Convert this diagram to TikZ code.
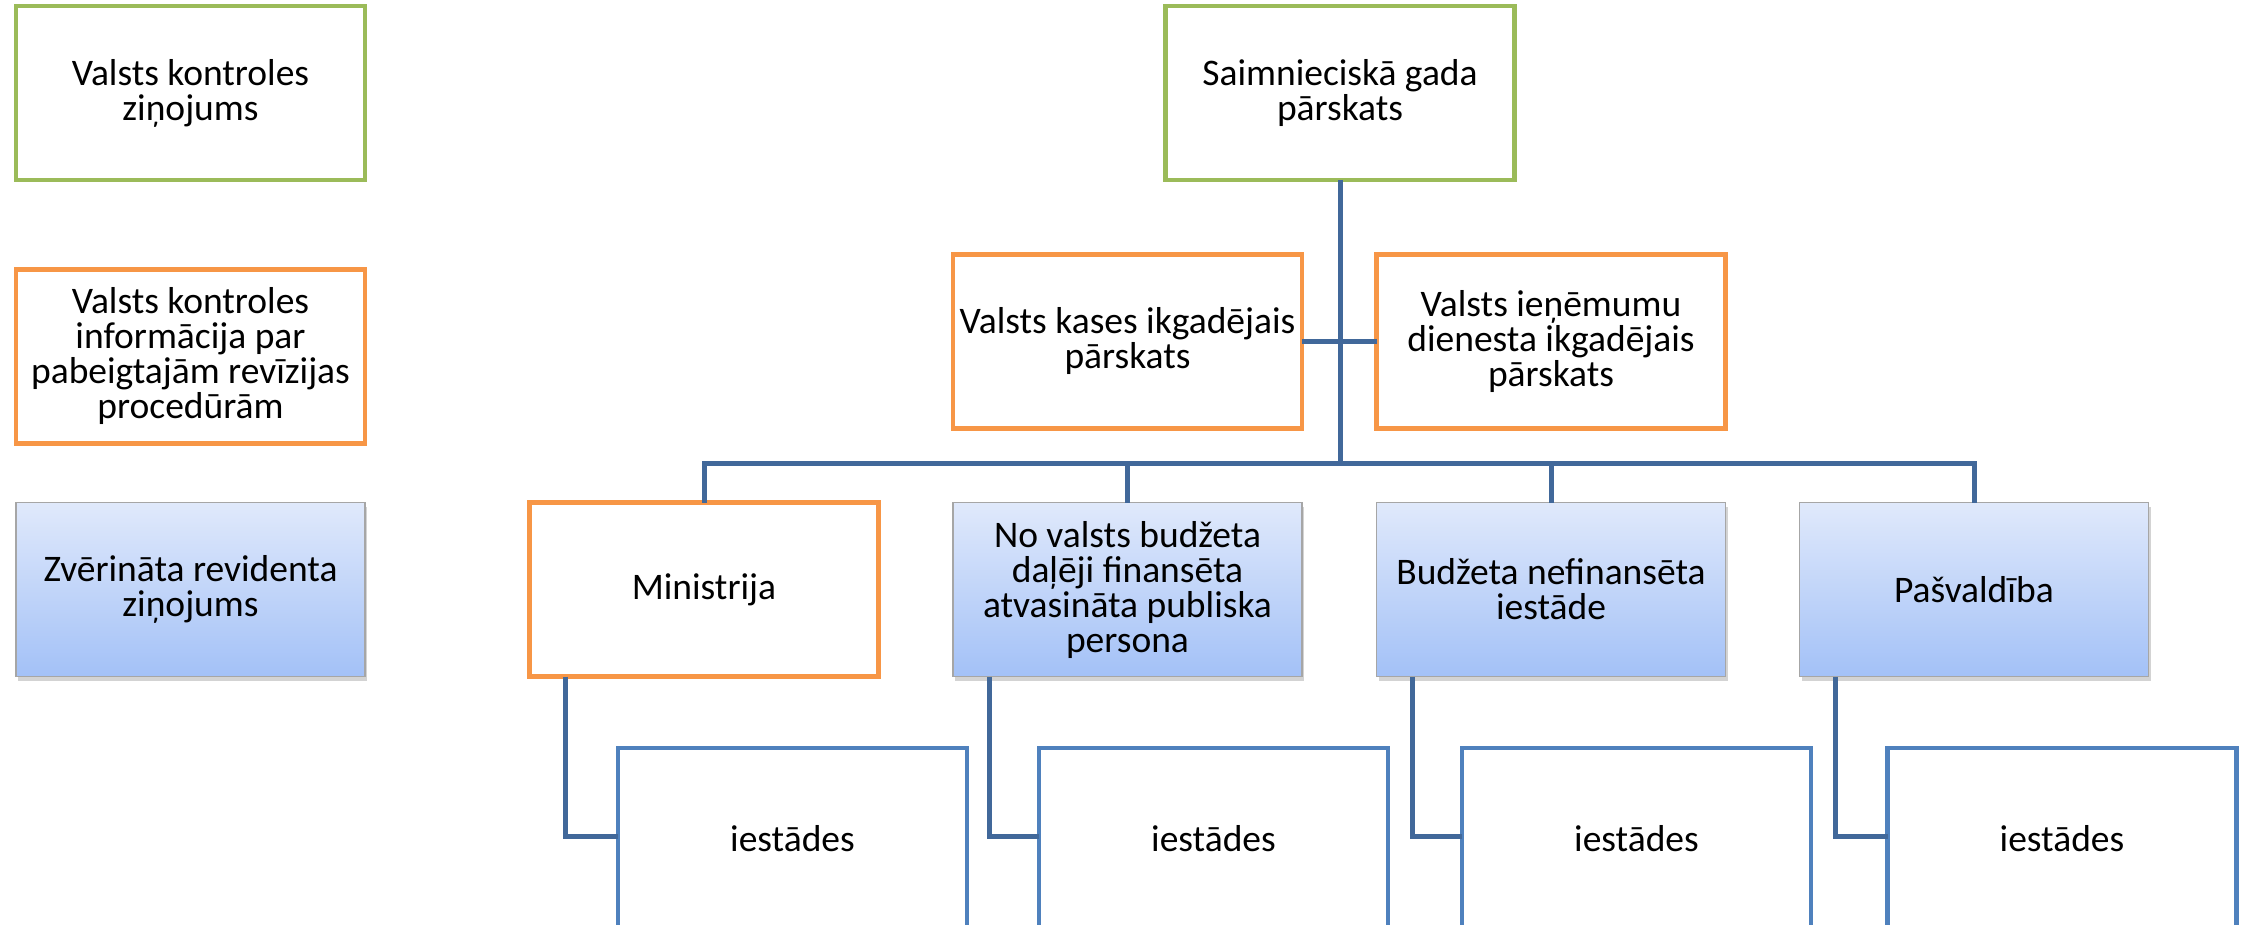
\documentclass[tikz,border=0pt]{standalone}
\usepackage{fontspec}
\setmainfont{Carlito}
\usetikzlibrary{shadows}
\definecolor{grn}{HTML}{9BBB59}
\definecolor{org}{HTML}{F79646}
\definecolor{conn}{HTML}{41689A}
\definecolor{ibox}{HTML}{4F81BD}
\definecolor{gtop}{HTML}{E0E9FB}
\definecolor{gbot}{HTML}{A3C1F7}
\tikzset{
  base/.style={rectangle, align=center, inner sep=0pt, outer sep=0pt,
    font=\fontsize{37.5}{35}\selectfont, minimum width=349pt, minimum height=174pt},
  greenbox/.style={base, draw=grn, line width=4.8pt, fill=white},
  orangebox/.style={base, draw=org, line width=4.8pt, fill=white},
  bluebox/.style={base, draw=gray!70, line width=1.2pt, top color=gtop, bottom color=gbot,
    drop shadow={opacity=0.35, shadow xshift=2pt, shadow yshift=-4pt}},
  leafbox/.style={base, draw=ibox, line width=4.8pt, fill=white, minimum height=186pt},
  link/.style={draw=conn, line width=5pt}
}
\begin{document}
\begin{tikzpicture}[x=1pt,y=-1pt]
\useasboundingbox (0,0) rectangle (2241,925);
\clip (0,0) rectangle (2241,925);
% legend column
\node[greenbox] (vk) at (190.5,93) {Valsts kontroles\\ziņojums};
\node[orangebox] (vki) at (190.5,356.5) {Valsts kontroles\\informācija par\\pabeigtajām revīzijas\\procedūrām};
\node[bluebox] (zr) at (190.5,589.5) {Zvērināta revidenta\\ziņojums};
% top
\node[greenbox] (sgp) at (1340,93) {Saimnieciskā gada\\pārskats};
\coordinate (bus) at (1340,463);
\node[orangebox] (vkas) at (1127.5,341.5) {Valsts kases ikgadējais\\pārskats};
\node[orangebox] (vid) at (1551,341.5) {Valsts ieņēmumu\\dienesta ikgadējais\\pārskats};
% level 2
\node[orangebox] (min) at (704,589.5) {Ministrija};
\node[bluebox] (nv) at (1127.5,589.5) {No valsts budžeta\\daļēji finansēta\\atvasināta publiska\\persona};
\node[bluebox] (bn) at (1551,589.5) {Budžeta nefinansēta\\iestāde};
\node[bluebox] (pa) at (1974,589.5) {Pašvaldība};
% leaves
\node[leafbox] (i1) at (792.5,841) {\raisebox{5pt}{iestādes}};
\node[leafbox] (i2) at (1213.5,841) {\raisebox{5pt}{iestādes}};
\node[leafbox] (i3) at (1636.5,841) {\raisebox{5pt}{iestādes}};
\node[leafbox] (i4) at (2062,841) {\raisebox{5pt}{iestādes}};
% connectors
\coordinate (e1) at (i1.west |- 0,836);
\coordinate (e2) at (i2.west |- 0,836);
\coordinate (e3) at (i3.west |- 0,836);
\coordinate (e4) at (i4.west |- 0,836);
\draw[link] (sgp.south) -- (bus);
\draw[link] (vkas.east) -- (vid.west);
\draw[link] (min.north) -- (min.north |- bus) -- (pa.north |- bus) -- (pa.north);
\draw[link] (nv.north) -- (nv.north |- bus);
\draw[link] (bn.north) -- (bn.north |- bus);
\draw[link] ([xshift=36pt]min.south west) |- (e1);
\draw[link] ([xshift=36pt]nv.south west) |- (e2);
\draw[link] ([xshift=36pt]bn.south west) |- (e3);
\draw[link] ([xshift=36pt]pa.south west) |- (e4);
\end{tikzpicture}
\end{document}
